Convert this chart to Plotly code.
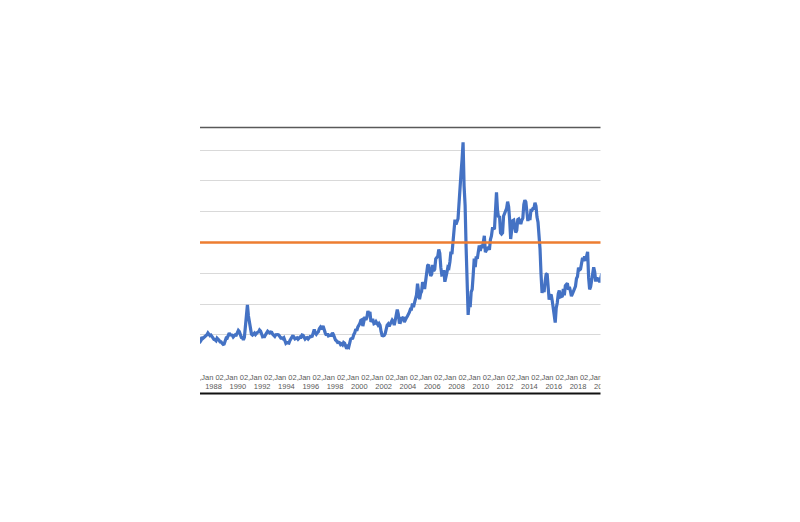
import plotly.graph_objects as go

start_year = 1986
# Monthly WTI crude oil price (USD/bbl), Jan 1986 .. Dec 2019
wti = [
    # 1986
    22.9, 15.5, 12.6, 12.8, 15.4, 13.4, 11.6, 15.1, 14.9, 14.9, 15.2, 16.1,
    # 1987
    18.6, 17.7, 18.3, 18.7, 19.4, 20.1, 21.3, 20.3, 19.5, 19.9, 18.8, 17.3,
    # 1988
    17.1, 16.8, 16.2, 17.9, 17.4, 16.5, 15.5, 15.5, 14.5, 13.8, 14.1, 16.4,
    # 1989
    18.0, 17.9, 19.5, 21.1, 20.1, 20.0, 19.8, 18.6, 19.6, 20.1, 19.9, 21.1,
    # 1990
    22.9, 22.1, 20.4, 18.4, 18.2, 16.7, 18.4, 27.3, 33.5, 39.5, 32.3, 27.3,
    # 1991
    25.2, 20.5, 19.9, 20.8, 21.2, 20.2, 21.4, 21.7, 21.9, 23.2, 22.5, 19.5,
    # 1992
    18.8, 19.0, 18.9, 20.2, 21.0, 22.4, 21.8, 21.3, 21.9, 21.7, 20.3, 19.4,
    # 1993
    19.0, 20.1, 20.3, 20.2, 19.9, 19.1, 17.9, 18.0, 17.5, 18.1, 16.6, 14.5,
    # 1994
    15.0, 14.8, 14.7, 16.4, 17.9, 19.1, 19.7, 18.4, 17.4, 17.7, 18.1, 17.2,
    # 1995
    18.0, 18.6, 18.5, 19.9, 19.7, 18.4, 17.3, 18.0, 18.2, 17.4, 18.0, 19.0,
    # 1996
    18.9, 19.1, 21.3, 23.5, 21.2, 20.4, 21.3, 21.9, 24.0, 24.9, 23.7, 25.2,
    # 1997
    25.1, 22.2, 21.0, 19.7, 20.8, 19.3, 19.7, 19.9, 19.8, 21.3, 20.2, 18.3,
    # 1998
    16.7, 16.1, 15.1, 15.3, 14.9, 13.7, 14.2, 13.5, 15.0, 14.5, 13.0, 11.0,
    # 1999
    12.5, 12.0, 14.7, 17.3, 17.7, 17.9, 20.1, 21.3, 23.8, 22.7, 25.0, 26.1,
    # 2000
    27.3, 29.4, 29.8, 25.7, 28.8, 31.8, 29.7, 31.3, 35.5, 33.1, 35.0, 28.4,
    # 2001
    29.6, 29.6, 27.2, 27.5, 28.6, 27.6, 26.4, 27.4, 26.2, 22.2, 19.6, 19.4,
    # 2002
    19.7, 20.7, 24.5, 26.2, 27.0, 25.5, 27.0, 28.4, 29.7, 28.8, 26.3, 29.5,
    # 2003
    33.0, 36.5, 33.5, 28.2, 28.1, 30.7, 30.7, 31.6, 28.3, 30.3, 31.1, 32.1,
    # 2004
    34.3, 34.7, 36.7, 36.7, 40.3, 38.0, 40.8, 44.9, 45.9, 53.3, 48.5, 43.1,
    # 2005
    46.8, 48.1, 54.2, 53.0, 49.8, 56.3, 59.0, 65.0, 65.6, 62.3, 58.3, 59.4,
    # 2006
    65.5, 61.6, 62.7, 69.4, 70.8, 71.0, 75.5, 73.0, 63.8, 58.9, 59.1, 62.0,
    # 2007
    54.5, 59.3, 60.4, 64.0, 63.5, 67.5, 74.1, 72.4, 79.9, 85.8, 94.8, 91.7,
    # 2008
    93.0, 95.4, 105.4, 112.6, 125.4, 133.9, 145.0, 116.7, 104.1, 76.6, 57.3, 33.0,
    # 2009
    41.7, 38.0, 47.9, 49.6, 59.0, 69.6, 64.1, 71.0, 69.4, 75.7, 78.0, 74.5,
    # 2010
    78.3, 76.4, 81.2, 84.3, 73.7, 75.3, 76.3, 76.6, 75.2, 81.9, 84.2, 89.1,
    # 2011
    89.2, 88.6, 102.9, 112.5, 100.9, 96.3, 97.3, 86.3, 85.5, 86.3, 97.2, 98.6,
    # 2012
    100.3, 102.2, 106.5, 103.3, 94.7, 82.3, 87.9, 94.1, 94.5, 89.5, 86.5, 87.9,
    # 2013
    94.8, 95.3, 92.9, 92.0, 94.5, 95.8, 104.7, 107.5, 106.3, 100.5, 93.9, 97.6,
    # 2014
    94.6, 100.8, 100.8, 102.1, 102.2, 105.8, 103.6, 96.5, 93.2, 84.4, 75.8, 59.3,
    # 2015
    47.2, 50.6, 47.8, 54.4, 59.3, 59.8, 50.9, 42.9, 45.5, 46.2, 42.4, 37.2,
    # 2016
    31.7, 28.0, 37.5, 40.7, 46.7, 48.8, 44.6, 44.7, 45.2, 49.8, 45.7, 52.0,
    # 2017
    52.5, 53.5, 49.3, 51.1, 48.5, 45.2, 46.6, 48.0, 49.8, 51.6, 56.6, 57.9,
    # 2018
    63.7, 62.2, 62.7, 66.2, 70.0, 67.9, 71.0, 68.1, 70.2, 74.0, 57.0, 49.5,
    # 2019
    51.4, 55.0, 58.1, 63.9, 60.8, 54.7, 57.3, 54.8, 57.0, 54.0, 57.0, 59.9,
]
threshold = 80
tick_years = list(range(1986, 2022, 2))
tick_labels = ["Jan 02,<br>%d" % y for y in tick_years]

x_vals = [start_year + (i + 0.5) / 12 for i in range(len(wti))]
tick_vals = [y + 1 / 365 for y in tick_years]

OFF = 8  # page body margin
px_per_year = 12.15
pl, pr = 100 - OFF, 700 - OFF
x_lo = 1988 - (213.5 - OFF - pl) / px_per_year
x_hi = x_lo + (pr - pl) / px_per_year

plot_top = 127 - OFF
plot_bot = 366 - OFF
H = 522
W = 800

fig = go.Figure()
fig.add_trace(go.Scatter(x=x_vals, y=wti, mode="lines",
                         line=dict(color="#4472C4", width=3.2), hoverinfo="skip"))
fig.add_trace(go.Scatter(x=[x_vals[0], x_vals[-1]], y=[threshold, threshold], mode="lines",
                         line=dict(color="#ED7D31", width=2.5), hoverinfo="skip"))


def fx(xp):
    return (xp - OFF - pl) / (pr - pl)


def fy(yp):
    return (plot_bot - (yp - OFF)) / (plot_bot - plot_top)


shapes = [
    dict(type="rect", xref="paper", yref="paper", x0=-1, x1=fx(200), y0=-2, y1=3,
         fillcolor="white", line=dict(width=0), layer="above"),
    dict(type="rect", xref="paper", yref="paper", x0=fx(600.5), x1=2, y0=-2, y1=3,
         fillcolor="white", line=dict(width=0), layer="above"),
    dict(type="line", xref="paper", yref="paper", x0=fx(200), x1=fx(600.5),
         y0=fy(127.5), y1=fy(127.5), line=dict(color="#595959", width=1.3), layer="above"),
    dict(type="line", xref="paper", yref="paper", x0=fx(200), x1=fx(600.5),
         y0=fy(393.5), y1=fy(393.5), line=dict(color="#111111", width=2), layer="above"),
]

fig.update_layout(
    width=W, height=H,
    margin=dict(l=pl, r=W - pr, t=plot_top, b=H - plot_bot, pad=0),
    paper_bgcolor="white", plot_bgcolor="white",
    showlegend=False,
    shapes=shapes,
    xaxis=dict(range=[x_lo, x_hi], tickmode="array", tickvals=tick_vals, ticktext=tick_labels,
               showgrid=False, zeroline=False, showline=False, ticks="",
               ticklabelstandoff=5,
               tickfont=dict(family="Liberation Sans", size=7.5, color="#595959"), tickangle=0),
    yaxis=dict(range=[-0.2, 155.0], dtick=20, tick0=0, showgrid=True, gridcolor="#D9D9D9",
               gridwidth=1, zeroline=False, showline=False, showticklabels=False, ticks=""),
)

fig.write_html("out.html")
